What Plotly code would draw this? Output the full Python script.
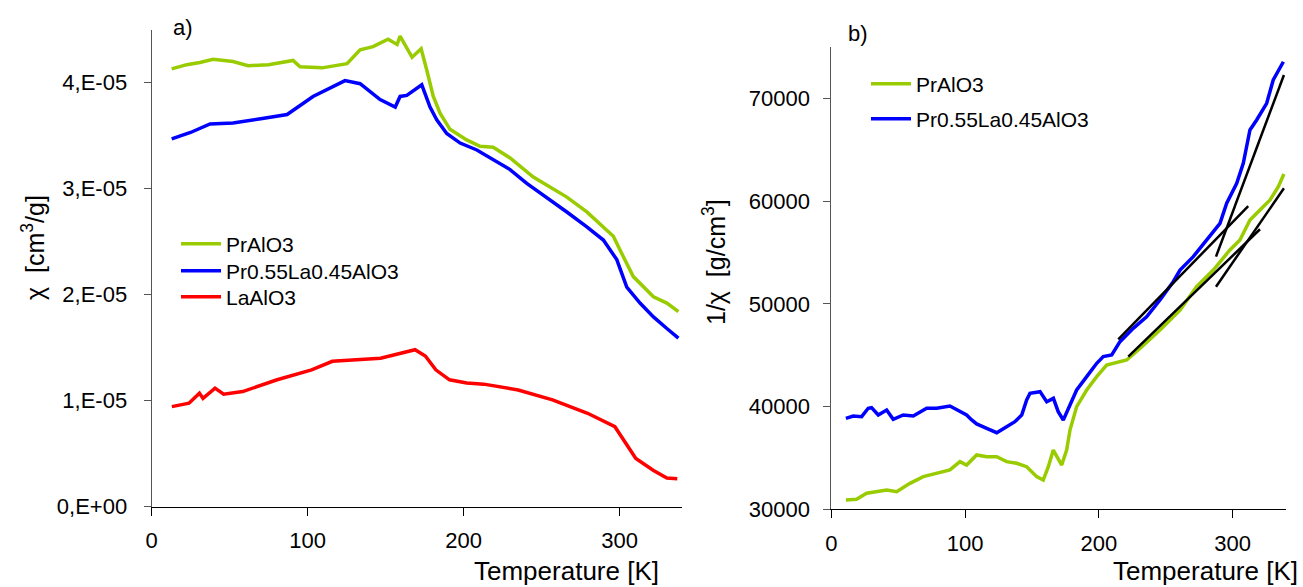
import numpy as np
import plotly.graph_objects as go

# ---------------- data ----------------
# panel a) susceptibility chi, values in units of 1e-5 cm^3/g
T_pr_a = [12.9, 22.6, 31, 39.4, 52.2, 61.9, 75, 90.7, 95.2, 109.3, 125.3, 133.7, 142, 151.6, 157.4,
          159.3, 167, 172.8, 176.4, 180.6, 185, 191.3, 202, 210.6, 219, 229.8, 244.7, 255.4, 266.2,
          279, 289.6, 296, 300.3, 308.8, 321.7, 330.3, 337.7]
chi_pr = [4.13, 4.17, 4.19, 4.22, 4.20, 4.16, 4.17, 4.21, 4.15, 4.14, 4.18, 4.31, 4.34, 4.41, 4.36,
          4.44, 4.24, 4.32, 4.12, 3.87, 3.71, 3.56, 3.46, 3.40, 3.39, 3.29, 3.11, 3.02, 2.92,
          2.78, 2.64, 2.55, 2.42, 2.17, 1.98, 1.92, 1.84]

T_prla_a = [12.9, 25, 37.5, 52.2, 70, 86.9, 103.5, 124, 133.7, 146.5, 156.2, 159.3, 163.6, 173.2,
            178.5, 182.8, 189.2, 197.8, 208.5, 219, 229.8, 240.5, 253.3, 266.2, 279, 289.6, 298.2,
            304.6, 313.1, 321.7, 330.3, 337.7]
chi_prla = [3.47, 3.53, 3.61, 3.62, 3.66, 3.70, 3.87, 4.02, 3.99, 3.84, 3.77, 3.87, 3.88, 3.98,
            3.77, 3.65, 3.52, 3.43, 3.365, 3.27, 3.18, 3.05, 2.92, 2.78, 2.64, 2.515, 2.33,
            2.07, 1.92, 1.79, 1.68, 1.59]

T_la_a = [13, 24, 30.7, 33, 40.7, 46.2, 58.4, 80.5, 102.6, 115.9, 146.8, 168.9, 175.5, 182.2, 191,
          202, 213, 235, 257, 279.5, 297, 303.8, 310.4, 321.5, 330.3, 337]
chi_la = [0.943, 0.975, 1.07, 1.02, 1.117, 1.06, 1.085, 1.196, 1.29, 1.37, 1.40, 1.48, 1.42, 1.29,
          1.196, 1.165, 1.155, 1.10, 1.006, 0.88, 0.753, 0.595, 0.453, 0.342, 0.27, 0.263]

# panel b) inverse susceptibility 1/chi in g/cm^3
T_pr_b = [10.8, 18.8, 26.3, 33.8, 41.3, 48.8, 58.7, 68.7, 78.7, 88.6, 96.1, 101.1, 108.6, 116.1,
          123.6, 131, 138.5, 146, 153.5, 158.4, 162.2, 165.9, 172.2, 175.9, 178.4, 183.4, 190.9,
          198.4, 205.8, 215.8, 220.8, 230.7, 245.7, 260.7, 273.1, 285.6, 298, 305.5, 313, 320.5,
          328, 334.2, 338.4]
inv_pr = [30900, 30970, 31560, 31710, 31880, 31710, 32530, 33180, 33510, 33830, 34640, 34310, 35290,
          35120, 35120, 34640, 34480, 34150, 33180, 32850, 34150, 35770, 34310, 35770, 37720, 40000,
          41620, 42920, 44050, 44370, 44540, 45680, 47470, 49410, 51680, 53310, 55260, 56230, 58180,
          59160, 60130, 61430, 62660]

T_prla_b = [10.8, 16.3, 22.6, 27.5, 30, 35, 41.3, 46.2, 53.7, 61.2, 71.2, 78.7, 88.6, 96.1, 101.1,
            104.9, 108.6, 116.1, 123.6, 131, 137.2, 142.3, 146, 148.5, 156, 161, 166, 169.6, 173.4,
            178.4, 183.4, 190.9, 198.4, 203.3, 209.6, 215.8, 225.7, 235.7, 245.7, 255.6, 260.7,
            270.6, 280.6, 290.6, 295.6, 303.1, 308, 313, 318, 325.5, 330.4, 334.2, 338]
inv_prla = [38860, 39090, 39020, 39840, 39900, 39190, 39670, 38770, 39190, 39090, 39840, 39840, 40060,
            39510, 39190, 38700, 38310, 37890, 37460, 38050, 38530, 39190, 40650, 41300, 41460, 40480,
            40810, 39510, 38700, 40160, 41620, 42920, 44220, 44870, 45030, 46330, 47630, 48760, 50390,
            52170, 53310, 54610, 56230, 57860, 59810, 61760, 63710, 66950, 67930, 69550, 71820, 72800,
            73600]

# linear Curie-Weiss fits (end points)
fit_T = [[214.5, 311.7], [287.6, 338.4], [222, 320.5], [287.6, 338.4]]
fit_v = [[46550, 59530], [54610, 72310], [44870, 57280], [51680, 61270]]

chi_ticks = [0, 1e-5, 2e-5, 3e-5, 4e-5]
chi_ticktext = ["0,E+00", "1,E-05", "2,E-05", "3,E-05", "4,E-05"]
inv_ticks = [30000, 40000, 50000, 60000, 70000]
T_ticks = [0, 100, 200, 300]

GREEN = "#99CC00"
BLUE = "#0000FF"
RED = "#FF0000"
FONT = "Liberation Sans, Arial, sans-serif"
W, H = 1303, 587

fig = go.Figure()
scale = 1e-5
fig.add_trace(go.Scatter(x=T_pr_a, y=np.array(chi_pr) * scale, mode="lines", name="PrAlO3",
                         line=dict(color=GREEN, width=3.5), xaxis="x", yaxis="y", legend="legend"))
fig.add_trace(go.Scatter(x=T_prla_a, y=np.array(chi_prla) * scale, mode="lines", name="Pr0.55La0.45AlO3",
                         line=dict(color=BLUE, width=3.5), xaxis="x", yaxis="y", legend="legend2"))
fig.add_trace(go.Scatter(x=T_la_a, y=np.array(chi_la) * scale, mode="lines", name="LaAlO3",
                         line=dict(color=RED, width=3.5), xaxis="x", yaxis="y", legend="legend3"))

fig.add_trace(go.Scatter(x=T_pr_b, y=inv_pr, mode="lines", name="PrAlO3",
                         line=dict(color=GREEN, width=3.5), xaxis="x2", yaxis="y2", legend="legend4"))
fig.add_trace(go.Scatter(x=T_prla_b, y=inv_prla, mode="lines", name="Pr0.55La0.45AlO3",
                         line=dict(color=BLUE, width=3.5), xaxis="x2", yaxis="y2", legend="legend5"))
for ft, fv in zip(fit_T, fit_v):
    fig.add_trace(go.Scatter(x=ft, y=fv, mode="lines", showlegend=False,
                             line=dict(color="black", width=2.5), xaxis="x2", yaxis="y2"))

axis_common = dict(showgrid=False, zeroline=False, showline=True, ticks="outside", automargin=False,
                   tickfont=dict(family=FONT, size=22, color="black"))


def leg(px, py):
    return dict(x=px / W, y=1 - py / H, xanchor="left", yanchor="middle", bgcolor="rgba(0,0,0,0)",
                borderwidth=0, font=dict(family=FONT, size=21, color="black"), itemwidth=40)


def note(text, px, py, size, angle=0, xanchor="center", yanchor="middle"):
    return dict(text=text, x=px / W, y=1 - py / H, xref="paper", yref="paper", showarrow=False,
                xanchor=xanchor, yanchor=yanchor, textangle=angle,
                font=dict(family=FONT, size=size, color="black"))


fig.update_layout(
    width=W, height=H,
    margin=dict(l=0, r=0, t=0, b=0, autoexpand=False),
    paper_bgcolor="white", plot_bgcolor="white",
    font=dict(family=FONT, color="black"),
    xaxis=dict(domain=[0.1163, 0.5234], range=[0, 340], tickvals=T_ticks, anchor="y",
               linecolor="black", tickcolor="black", ticklen=8, ticklabelstandoff=6, **axis_common),
    yaxis=dict(domain=[0.1371, 0.9494], range=[0, 4.5e-5], tickvals=chi_ticks, ticktext=chi_ticktext,
               anchor="x", linecolor="#555555", tickcolor="#555555", ticklen=7, ticklabelstandoff=12,
               **axis_common),
    xaxis2=dict(domain=[0.6381, 0.9870], range=[0, 340], tickvals=T_ticks, anchor="y2",
                linecolor="black", tickcolor="black", ticklen=8, ticklabelstandoff=6, **axis_common),
    yaxis2=dict(domain=[0.1324, 0.9193], range=[30000, 75000], tickvals=inv_ticks,
                ticktext=[str(v) for v in inv_ticks], anchor="x2", linecolor="#555555",
                tickcolor="#555555", ticklen=7, ticklabelstandoff=9, **axis_common),
    legend=leg(176, 244),
    legend2=leg(176, 271),
    legend3=leg(176, 297),
    legend4=leg(866, 84),
    legend5=leg(866, 119),
    annotations=[
        note("a)", 183, 27, 22),
        note("b)", 858, 33, 22),
        note("χ  [cm<sup>3</sup>/g]", 33, 248, 25, angle=-90),
        note("1/χ  [g/cm<sup>3</sup>]", 714, 262, 25, angle=-90),
        note("Temperature [K]", 661, 588, 26, xanchor="right", yanchor="bottom"),
        note("Temperature [K]", 1300, 588, 26, xanchor="right", yanchor="bottom"),
    ],
)

fig.write_html("out.html", config={"displayModeBar": False},
               post_script="document.body.style.margin='0';")
